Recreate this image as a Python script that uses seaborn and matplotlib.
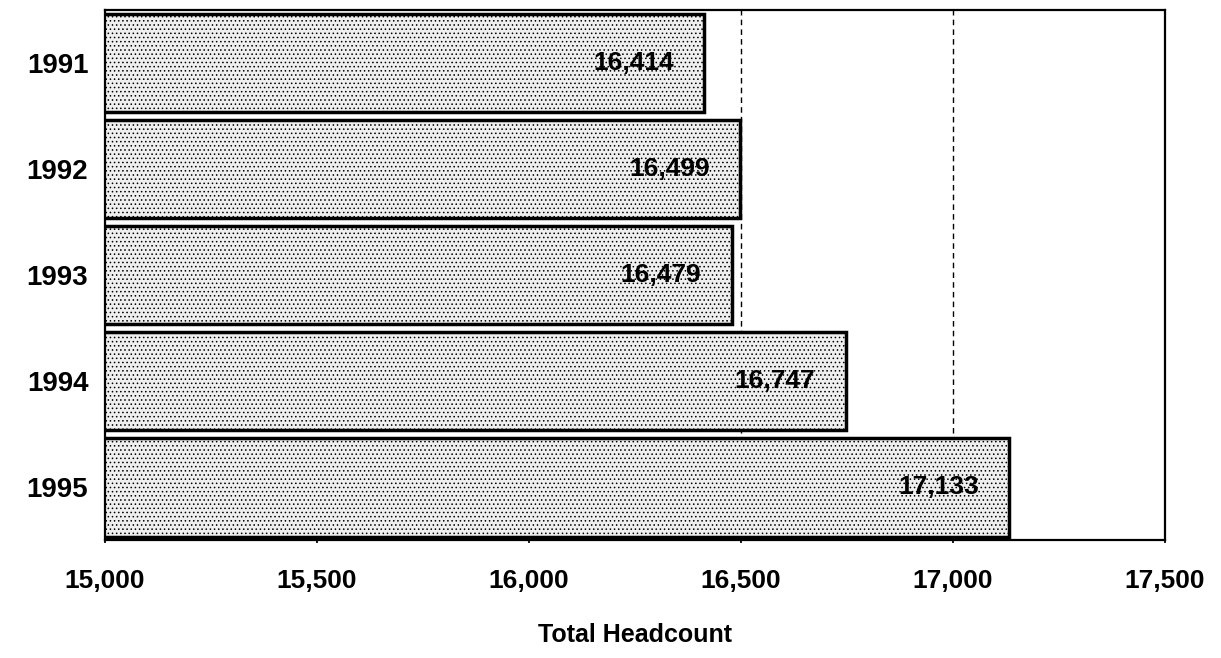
import matplotlib
matplotlib.use("Agg")
import matplotlib.pyplot as plt
import seaborn as sns
import pandas as pd

years = ["1991", "1992", "1993", "1994", "1995"]
headcount = [16414, 16499, 16479, 16747, 17133]
xticks = [15000, 15500, 16000, 16500, 17000, 17500]
gridlines = [16500, 17000]
xlabel = "Total Headcount"

sns.set_theme(style="white")
plt.rcParams["font.family"] = ["Liberation Sans", "DejaVu Sans"]
plt.rcParams["hatch.color"] = "#b4b4b4"
plt.rcParams["hatch.linewidth"] = 0.6
plt.rcParams["text.color"] = "black"
plt.rcParams["axes.labelcolor"] = "black"
plt.rcParams["xtick.color"] = "black"
plt.rcParams["ytick.color"] = "black"

df = pd.DataFrame({"year": years, "headcount": headcount})

fig = plt.figure(figsize=(12.21, 6.58), dpi=100)
ax = fig.add_axes([0.086, 0.179, 0.868, 0.806])

for xv in gridlines:
    ax.axvline(xv, color="black", linestyle=(0, (4, 3)), linewidth=1.0, zorder=0)

sns.barplot(data=df, x="headcount", y="year", order=years, orient="h",
            color="#efefef", edgecolor="black", linewidth=2.5, width=0.93,
            saturation=1, ax=ax, zorder=2)
for p in ax.patches:
    p.set_hatch("....")

ax.set_xlim(15000, 17500)
ax.set_ylim(4.5, -0.5)
ax.set_xticks(xticks)
ax.set_xticklabels([f"{v:,}" for v in xticks], fontsize=19, fontweight="bold", color="black")
ax.set_yticks(range(len(years)))
ax.set_yticklabels(years, fontsize=20, fontweight="bold", color="black")
ax.tick_params(axis="x", pad=18, length=5, direction="inout", color="black", bottom=True)
ax.tick_params(axis="y", pad=12, length=0)
ax.set_xlabel(xlabel, fontsize=18, fontweight="bold", labelpad=22, color="black")
ax.set_ylabel("")

for sp in ax.spines.values():
    sp.set_visible(True)
    sp.set_color("black")
    sp.set_linewidth(1.6)

for i, v in enumerate(headcount):
    ax.annotate(f"{v:,}", xy=(v, i), xytext=(-22, 0), textcoords="offset points",
                ha="right", va="center", fontsize=19, fontweight="bold",
                color="black", zorder=5)

fig.savefig("out.png", dpi=100)
